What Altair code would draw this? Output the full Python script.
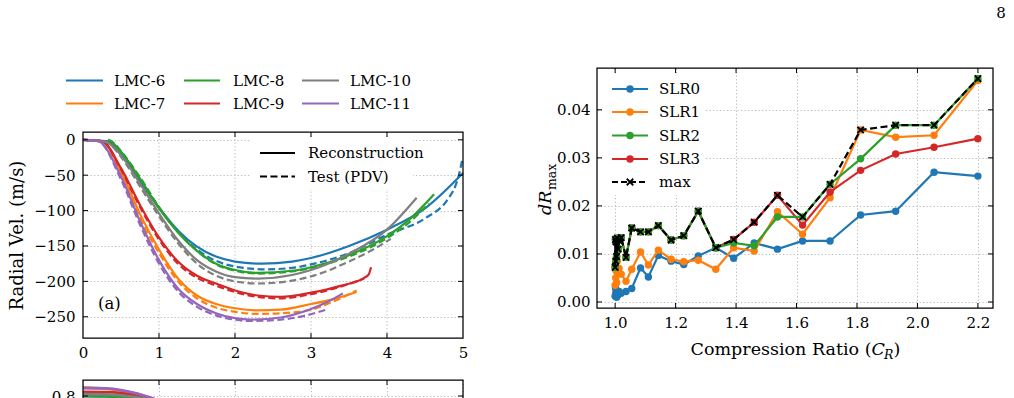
import altair as alt
import pandas as pd

FONT = "DejaVu Serif"
FS = 15
TITLE_FS = 17.5
LW = 2.2
DASH = [7, 3.5]
BLUE, ORANGE, GREEN, RED, PURPLE, GRAY = "#1f77b4", "#ff7f0e", "#2ca02c", "#d62728", "#9467bd", "#7f7f7f"
GRID_COLOR = "#b5b5b5"
GRID_DASH = [1.3, 2.2]

# ---------------- (a) radial velocity: reconstruction vs PDV test ----------------
lmc6_rec_t = [0, 0.3, 0.5, 0.75, 1.0, 1.25, 1.5, 1.75, 2.0, 2.35, 2.75, 3.0, 3.5, 4.0, 4.5, 5.0]
lmc6_rec_v = [0, -2, -20, -58, -96, -128, -151, -165, -172, -175, -172, -167, -150, -127, -97, -47]
lmc6_pdv_t = [0, 0.35, 0.5, 0.75, 1.0, 1.25, 1.5, 1.75, 2.0, 2.4, 2.75, 3.0, 3.5, 4.0, 4.5, 4.8, 4.9, 4.95, 4.99]
lmc6_pdv_v = [0, -3, -18, -56, -96, -130, -155, -171, -179, -183, -181, -176, -160, -134, -111, -84, -65, -48, -28]

lmc7_rec_t = [0, 0.25, 0.5, 0.75, 1.0, 1.25, 1.5, 1.75, 2.0, 2.3, 2.6, 3.0, 3.3, 3.6]
lmc7_rec_v = [0, -2, -45, -105, -155, -196, -220, -232, -238, -241, -240, -232, -225, -215]
lmc7_pdv_t = [0, 0.25, 0.5, 0.75, 1.0, 1.25, 1.5, 1.75, 2.0, 2.3, 2.6, 3.0, 3.3, 3.6]
lmc7_pdv_v = [0, -2, -48, -110, -160, -200, -224, -237, -243, -246, -245, -240, -228, -213]

lmc8_rec_t = [0.33, 0.4, 0.5, 0.75, 1.0, 1.25, 1.5, 1.75, 2.0, 2.3, 2.75, 3.0, 3.5, 4.0, 4.3, 4.62]
lmc8_rec_v = [0, -5, -17, -55, -97, -131, -157, -175, -184, -188, -185, -180, -163, -136, -112, -77]
lmc8_pdv_t = [0.33, 0.4, 0.5, 0.75, 1.0, 1.25, 1.5, 1.75, 2.0, 2.3, 2.75, 3.0, 3.5, 4.0, 4.3, 4.55]
lmc8_pdv_v = [0, -4, -16, -53, -95, -130, -157, -176, -185, -189, -186, -181, -165, -139, -116, -90]

lmc9_rec_t = [0, 0.25, 0.5, 0.75, 1.0, 1.25, 1.5, 1.75, 2.0, 2.3, 2.6, 3.0, 3.4, 3.7, 3.76, 3.79]
lmc9_rec_v = [0, -2, -40, -92, -138, -172, -192, -203, -213, -220, -222, -216, -206, -195, -190, -180]
lmc9_pdv_t = [0, 0.25, 0.5, 0.75, 1.0, 1.25, 1.5, 1.75, 2.0, 2.3, 2.6, 3.0, 3.4, 3.7]
lmc9_pdv_v = [0, -2, -42, -95, -141, -175, -195, -206, -215, -222, -224, -218, -207, -196]

lmc10_rec_t = [0, 0.3, 0.5, 0.75, 1.0, 1.25, 1.5, 1.75, 2.0, 2.3, 2.75, 3.0, 3.5, 4.0, 4.39]
lmc10_rec_v = [0, -3, -22, -62, -104, -142, -170, -186, -194, -196, -191, -184, -161, -127, -82]
lmc10_pdv_t = [0, 0.3, 0.5, 0.75, 1.0, 1.25, 1.5, 1.75, 2.0, 2.3, 2.75, 3.0, 3.5, 3.8, 4.05]
lmc10_pdv_v = [0, -3, -24, -66, -108, -146, -175, -192, -200, -203, -199, -193, -172, -156, -140]

lmc11_rec_t = [0, 0.2, 0.5, 0.75, 1.0, 1.25, 1.5, 1.75, 2.0, 2.2, 2.6, 3.0, 3.2, 3.42]
lmc11_rec_v = [0, -2, -52, -115, -170, -210, -232, -245, -252, -254, -251, -239, -230, -217]
lmc11_pdv_t = [0, 0.2, 0.5, 0.75, 1.0, 1.25, 1.5, 1.75, 2.0, 2.2, 2.6, 2.9, 3.2]
lmc11_pdv_v = [0, -2, -56, -120, -175, -214, -236, -248, -254, -256, -254, -249, -240]

lmc_names = ["LMC-6", "LMC-7", "LMC-8", "LMC-9", "LMC-10", "LMC-11"]
lmc_colors = [BLUE, ORANGE, GREEN, RED, GRAY, PURPLE]

a_xticks = [0, 1, 2, 3, 4, 5]
a_yticks = [0, -50, -100, -150, -200, -250]

# ---------------- lower panel (top strip) ----------------
b_t = [0.0, 0.3, 0.5, 0.7, 0.85, 0.95, 1.1]
b_lmc6 = [0.800, 0.799, 0.796, 0.789, 0.779, 0.771, 0.754]
b_lmc7 = [0.837, 0.832, 0.824, 0.810, 0.795, 0.784, 0.763]
b_lmc8 = [0.801, 0.800, 0.797, 0.790, 0.780, 0.772, 0.755]
b_lmc9 = [0.818, 0.817, 0.813, 0.802, 0.789, 0.779, 0.760]
b_lmc10 = [0.808, 0.807, 0.803, 0.795, 0.785, 0.776, 0.758]
b_lmc11 = [0.835, 0.833, 0.826, 0.812, 0.797, 0.786, 0.765]

# ---------------- dR_max vs compression ratio ----------------
cr = [1.0, 1.001, 1.002, 1.003, 1.005, 1.007, 1.01, 1.013, 1.02, 1.036, 1.055, 1.084, 1.11, 1.143,
      1.185, 1.227, 1.275, 1.333, 1.392, 1.46, 1.537, 1.62, 1.711, 1.812, 1.928, 2.055, 2.2]
slr0 = [0.0012, 0.0030, 0.0018, 0.0025, 0.0010, 0.0020, 0.0015, 0.0022, 0.0018, 0.0022, 0.0028, 0.0071,
        0.0052, 0.0097, 0.0085, 0.0078, 0.0096, 0.0113, 0.0091, 0.0123, 0.0110, 0.0127, 0.0127, 0.0181,
        0.0189, 0.0270, 0.0262]
slr1 = [0.0035, 0.0080, 0.0050, 0.0065, 0.0040, 0.0085, 0.0060, 0.0070, 0.0058, 0.0043, 0.0068, 0.0104,
        0.0077, 0.0108, 0.0089, 0.0084, 0.0087, 0.0068, 0.0113, 0.0106, 0.0188, 0.0141, 0.0217, 0.0358,
        0.0343, 0.0347, 0.0461]
slr2 = [0.0072, 0.0130, 0.0085, 0.0125, 0.0095, 0.0133, 0.0110, 0.0128, 0.0134, 0.0093, 0.0154, 0.0146,
        0.0146, 0.0159, 0.0129, 0.0138, 0.0189, 0.0113, 0.0123, 0.0117, 0.0177, 0.0177, 0.0245, 0.0298,
        0.0368, 0.0368, 0.0465]
slr3 = [0.0072, 0.0130, 0.0085, 0.0125, 0.0095, 0.0133, 0.0110, 0.0128, 0.0134, 0.0093, 0.0154, 0.0146,
        0.0146, 0.0159, 0.0129, 0.0138, 0.0189, 0.0113, 0.0130, 0.0166, 0.0222, 0.0160, 0.0229, 0.0274,
        0.0308, 0.0322, 0.0340]
dr_max = [0.0072, 0.0130, 0.0085, 0.0125, 0.0095, 0.0133, 0.0110, 0.0128, 0.0134, 0.0093, 0.0154, 0.0146,
          0.0146, 0.0159, 0.0129, 0.0138, 0.0189, 0.0113, 0.0130, 0.0166, 0.0222, 0.0177, 0.0245, 0.0358,
          0.0368, 0.0368, 0.0465]
slr_names = ["SLR0", "SLR1", "SLR2", "SLR3"]
slr_colors = [BLUE, ORANGE, GREEN, RED]
c_xticks = [1.0, 1.2, 1.4, 1.6, 1.8, 2.0, 2.2]
c_yticks = [0.0, 0.01, 0.02, 0.03, 0.04]

# ---------------- geometry ----------------
A_W, A_H, A_TOP = 380, 270, 64     # panel (a) cell; plot area starts at A_TOP
B_W, B_H = 380, 20                 # lower strip
C_W, C_H = 396, 240                # right panel
TL = 5                             # inward tick length

one = pd.DataFrame({"k": [0]})
X_CROSS = "M-1,-1L1,1M-1,1L1,-1"


def axis(values, fmt, labels=True, grid=True, pad=7, **kw):
    return alt.Axis(values=values, format=fmt, labels=labels, grid=grid, gridColor=GRID_COLOR,
                    gridDash=GRID_DASH, gridWidth=0.9, ticks=False, domain=False, labelFont=FONT,
                    labelFontSize=FS, labelColor="black", labelPadding=pad, labelFlush=False,
                    labelOverlap=False, **kw)


def seg(x1, x2, y, color, dash=None, width=LW):
    kw = dict(color=color, strokeWidth=width)
    if dash:
        kw["strokeDash"] = dash
    return alt.Chart(one).mark_rule(**kw).encode(x=alt.value(x1), x2=alt.value(x2), y=alt.value(y))


def txt(x, y, s, size=FS, align="left", baseline="middle", style="normal", angle=0):
    kw = dict(text=s, font=FONT, fontSize=size, align=align, baseline=baseline, fontStyle=style, color="black")
    if angle:
        kw["angle"] = angle
    return alt.Chart(one).mark_text(**kw).encode(x=alt.value(x), y=alt.value(y))


def marker(x, y, color, shape="circle", size=50, filled=True, sw=1.0):
    return alt.Chart(one).mark_point(shape=shape, size=size, filled=filled, color=color, strokeWidth=sw,
                                     opacity=1).encode(x=alt.value(x), y=alt.value(y))


def rect(x1, x2, y1, y2, fill=None, stroke=None, sw=1.25):
    if fill:
        m = alt.Chart(one).mark_rect(fill=fill)
    else:
        m = alt.Chart(one).mark_rect(filled=False, color=stroke, strokeWidth=sw)
    return m.encode(x=alt.value(x1), x2=alt.value(x2), y=alt.value(y1), y2=alt.value(y2))


def inward_ticks(xvals, yvals, X, Y, W, top, bottom, sides):
    out = []
    dx = pd.DataFrame({"v": xvals})
    dy = pd.DataFrame({"v": yvals})
    rule = dict(color="black", strokeWidth=1)
    if "t" in sides:
        out.append(alt.Chart(dx).mark_rule(**rule).encode(x=X("v"), y=alt.value(top), y2=alt.value(top + TL)))
    if "b" in sides:
        out.append(alt.Chart(dx).mark_rule(**rule).encode(x=X("v"), y=alt.value(bottom - TL), y2=alt.value(bottom)))
    if "l" in sides:
        out.append(alt.Chart(dy).mark_rule(**rule).encode(y=Y("v"), x=alt.value(0), x2=alt.value(TL)))
    if "r" in sides:
        out.append(alt.Chart(dy).mark_rule(**rule).encode(y=Y("v"), x=alt.value(W - TL), x2=alt.value(W)))
    return out


# ================= panel (a) =================
xs_a = alt.Scale(domain=[0, 5], nice=False, zero=False)
ys_a = alt.Scale(domain=[-280, 11], range=[A_H, A_TOP], nice=False, zero=False)
xa_a = axis(a_xticks, "d", grid=False, title=None)
ya_a = axis(a_yticks, "d", pad=8, title="Radial Vel. (m/s)", titleFont=FONT, titleFontSize=18,
            titleFontWeight="normal", titleColor="black", titleAngle=270, titleAlign="center",
            titleBaseline="middle", titleX=-66, titleY=(A_H + A_TOP) / 2)


def XA(f):
    return alt.X(f + ":Q", scale=xs_a, axis=xa_a)


def YA(f):
    return alt.Y(f + ":Q", scale=ys_a, axis=ya_a)


def vel_curve(t, v, color, dashed):
    kw = dict(color=color, strokeWidth=LW, interpolate="monotone")
    if dashed:
        kw["strokeDash"] = DASH
    return alt.Chart(pd.DataFrame({"t": t, "v": v})).mark_line(**kw).encode(x=XA("t"), y=YA("v"))


a_layers = [
    rect(-82, -81, -67, -66, fill="white"),
    alt.Chart(pd.DataFrame({"v": a_xticks[1:-1]})).mark_rule(
        color=GRID_COLOR, strokeDash=GRID_DASH, strokeWidth=0.9
    ).encode(x=XA("v"), y=alt.value(A_TOP), y2=alt.value(A_H)),
]
a_series = [
    (lmc6_rec_t, lmc6_rec_v, lmc6_pdv_t, lmc6_pdv_v, BLUE),
    (lmc7_rec_t, lmc7_rec_v, lmc7_pdv_t, lmc7_pdv_v, ORANGE),
    (lmc8_rec_t, lmc8_rec_v, lmc8_pdv_t, lmc8_pdv_v, GREEN),
    (lmc9_rec_t, lmc9_rec_v, lmc9_pdv_t, lmc9_pdv_v, RED),
    (lmc10_rec_t, lmc10_rec_v, lmc10_pdv_t, lmc10_pdv_v, GRAY),
    (lmc11_rec_t, lmc11_rec_v, lmc11_pdv_t, lmc11_pdv_v, PURPLE),
]
for rt, rv, pt, pv, col in a_series:
    a_layers.append(vel_curve(rt, rv, col, False))
    a_layers.append(vel_curve(pt, pv, col, True))

# line-style key inside the plot
a_layers += [
    rect(168, 330, 70, 121, fill="white"),
    seg(177, 212, 85, "black"),
    seg(177, 212, 108.5, "black", dash=DASH),
    txt(225, 85, "Reconstruction"),
    txt(225, 108.5, "Test (PDV)"),
    txt(15, 236, "(a)", size=16.5),
]
# colour key above the plot (3 columns x 2 rows)
key_cols = [(-17, 20, 31), (101, 137, 150), (219, 256, 267)]
key_rows = [12.5, 35.5]
for i, (name, col) in enumerate(zip(lmc_names, lmc_colors)):
    x1, x2, xt = key_cols[i // 2]
    y = key_rows[i % 2]
    a_layers += [seg(x1, x2, y, col), txt(xt, y, name)]

a_layers += inward_ticks(a_xticks[1:-1], a_yticks, XA, YA, A_W, A_TOP, A_H, "tblr")
a_layers.append(rect(0, A_W, A_TOP, A_H, stroke="black"))
panel_a = alt.layer(*a_layers).properties(width=A_W, height=A_H)

# ================= lower strip =================
xs_s = alt.Scale(domain=[0, 5], nice=False, zero=False)
ys_s = alt.Scale(domain=[0.7825, 0.87], nice=False, zero=False)
xa_s = axis(a_xticks, "d", labels=False, title=None)
ya_s = axis([0.8], ".1f", pad=8, title=None)


def XS(f):
    return alt.X(f + ":Q", scale=xs_s, axis=xa_s)


def YS(f):
    return alt.Y(f + ":Q", scale=ys_s, axis=ya_s)


s_layers = []
for vals, col in zip([b_lmc6, b_lmc7, b_lmc8, b_lmc9, b_lmc10, b_lmc11], lmc_colors):
    s_layers.append(
        alt.Chart(pd.DataFrame({"t": b_t, "v": vals})).mark_line(
            color=col, strokeWidth=2.8, interpolate="monotone", clip=True
        ).encode(x=XS("t"), y=YS("v"))
    )
s_layers += inward_ticks(a_xticks[1:-1], [0.8], XS, YS, B_W, 0, B_H, "tlr")
s_layers.append(rect(0, B_W, 0, B_H, stroke="black"))
panel_s = alt.layer(*s_layers).properties(width=B_W, height=B_H)

# ================= dR_max panel =================
xs_c = alt.Scale(domain=[0.94, 2.25], nice=False, zero=False)
ys_c = alt.Scale(domain=[-0.00125, 0.0487], nice=False, zero=False)
xa_c = axis(c_xticks, ".1f", title=None)
ya_c = axis(c_yticks, ".2f", title=None)


def XC(f):
    return alt.X(f + ":Q", scale=xs_c, axis=xa_c)


def YC(f):
    return alt.Y(f + ":Q", scale=ys_c, axis=ya_c)


c_layers = []
# drawing order keeps SLR2 above SLR3 where they coincide
for vals, col in [(slr0, BLUE), (slr1, ORANGE), (slr3, RED), (slr2, GREEN)]:
    d = pd.DataFrame({"cr": cr, "dr": vals})
    c_layers.append(alt.Chart(d).mark_line(color=col, strokeWidth=LW).encode(x=XC("cr"), y=YC("dr")))
    c_layers.append(alt.Chart(d).mark_point(filled=True, size=55, color=col, opacity=1)
                    .encode(x=XC("cr"), y=YC("dr")))
dm = pd.DataFrame({"cr": cr, "dr": dr_max})
c_layers.append(alt.Chart(dm).mark_line(color="black", strokeWidth=LW, strokeDash=DASH)
                .encode(x=XC("cr"), y=YC("dr")))
c_layers.append(alt.Chart(dm).mark_point(shape=X_CROSS, size=42, filled=False, color="black",
                                         strokeWidth=1.8, opacity=1).encode(x=XC("cr"), y=YC("dr")))

# legend
c_layers.append(rect(7, 107, 7, 127, fill="white"))
leg_y = [21, 44, 67.5, 91]
for name, col, y in zip(slr_names, slr_colors, leg_y):
    c_layers += [seg(15, 51, y, col), marker(33, y, col, size=55), txt(62, y, name)]
c_layers += [seg(15, 51, 114, "black", dash=[6, 3]),
             marker(33, 114, "black", shape=X_CROSS, size=42, filled=False, sw=1.8),
             txt(62, 114, "max")]

# axis titles with math-style pieces
c_layers += [
    txt(274.5, 286.5, "Compression Ratio (", size=TITLE_FS, align="right", baseline="alphabetic"),
    txt(274.5, 286.5, "C", size=TITLE_FS, baseline="alphabetic", style="italic"),
    txt(287, 290.5, "R", size=12.5, baseline="alphabetic", style="italic"),
    txt(296.5, 286.5, ")", size=TITLE_FS, baseline="alphabetic"),
    txt(-46, 147, "dR", size=TITLE_FS, baseline="alphabetic", style="italic", angle=270),
    txt(-41.5, 122, "max", size=12.5, baseline="alphabetic", angle=270),
    txt(404, -55, "8", align="center"),
]
c_layers += inward_ticks(c_xticks, c_yticks, XC, YC, C_W, 0, C_H, "tblr")
c_layers.append(rect(0, C_W, 0, C_H, stroke="black"))
panel_c = alt.layer(*c_layers).properties(width=C_W, height=C_H)

chart = (
    alt.concat(panel_a, panel_c, panel_s, columns=2, spacing={"row": 42, "column": 134}, bounds="flush")
    .properties(padding=0)
    .configure(font=FONT, background="white")
    .configure_view(stroke="transparent")
)

chart.save("out.html", embed_options={"renderer": "svg", "actions": False})
